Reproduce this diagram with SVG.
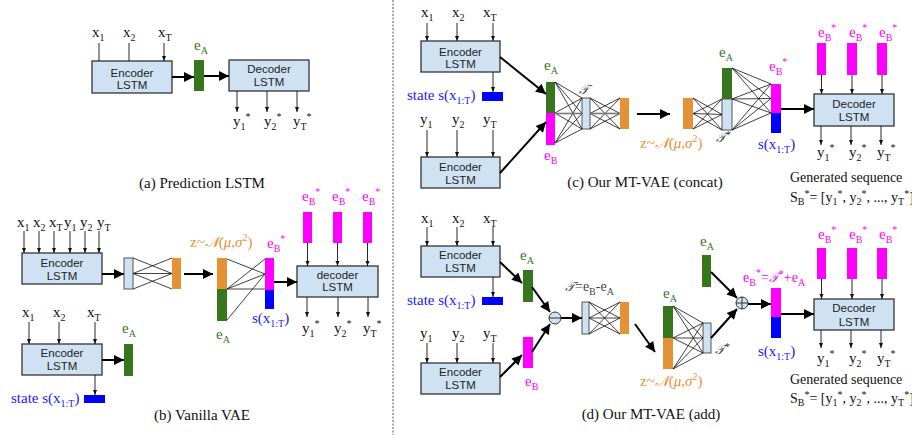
<svg xmlns="http://www.w3.org/2000/svg" width="912" height="435" viewBox="0 0 912 435">
<style>
.box{fill:#cfe2f3;stroke:#333;stroke-width:1.3}
.lb{fill:#cfe2f3;stroke:#555;stroke-width:1}
.g{fill:#38761d}.m{fill:#ff00ff}.bl{fill:#0000ff}.o{fill:#e69138}
.t{font-family:"Liberation Sans",Arial,sans-serif;font-size:11.5px;text-anchor:middle;fill:#222}
.s{font-family:"Liberation Serif","Times New Roman",serif;font-size:15px;fill:#111}
.s14{font-size:14px}
.s13{font-size:13px}
.sm{font-size:10px}
.xs{font-size:9px}
.cap{font-family:"Liberation Serif","Times New Roman",serif;font-size:15px;text-anchor:middle;fill:#111}
.tg{fill:#38761d}.tm{fill:#ff00ff}.tb{fill:#1a1aff}.to{fill:#e69138}.tk{fill:#444}
.scr{font-family:"DejaVu Serif","DejaVu Sans",serif;font-style:italic}
.thin{stroke:#111;stroke-width:0.9;fill:none;marker-end:url(#a)}
.thick{stroke:#000;stroke-width:2;fill:none;marker-end:url(#b)}
.net{stroke:#111;stroke-width:0.8;fill:none}
.mid{stroke:#777;stroke-width:1.6;fill:none}
.op{fill:#cfe2f3;stroke:#333;stroke-width:1}
.sep{stroke:#555;stroke-width:1;stroke-dasharray:2 1.5}
</style>
<defs>
<marker id="a" viewBox="0 0 10 10" refX="10" refY="5" markerWidth="5" markerHeight="5" markerUnits="userSpaceOnUse" orient="auto"><path d="M0,1 L10,5 L0,9z" fill="#111"/></marker>
<marker id="b" viewBox="0 0 10 10" refX="10" refY="5" markerWidth="11" markerHeight="10" markerUnits="userSpaceOnUse" orient="auto"><path d="M0,0 L10,5 L0,10z" fill="#000"/></marker>
</defs>
<rect width="912" height="435" fill="#fff"/>
<line class="sep" x1="393" y1="0" x2="393" y2="435"/>

<!-- ===== (a) ===== -->
<g id="a-inputs">
<text class="s" x="92" y="37">x<tspan class="sm" dy="4">1</tspan></text>
<text class="s" x="123" y="37">x<tspan class="sm" dy="4">2</tspan></text>
<text class="s" x="158" y="37">x<tspan class="sm" dy="4">T</tspan></text>
</g>
<g id="a-encoder"><rect class="box" x="92" y="61" width="80" height="32"/><text class="t" x="132" y="77">Encoder</text><text class="t" x="132" y="89">LSTM</text></g>
<g id="a-eA"><rect class="g" x="194" y="60" width="10" height="31"/><text class="s tg" x="194" y="50">e<tspan class="sm" dy="4">A</tspan></text></g>
<g id="a-decoder"><rect class="box" x="229" y="60" width="80" height="31"/><text class="t" x="269" y="73">Decoder</text><text class="t" x="269" y="86">LSTM</text></g>
<g id="a-outputs">
<text class="s" x="233" y="126">y<tspan class="sm" dy="4">1</tspan><tspan class="sm" dy="-10">*</tspan></text>
<text class="s" x="264" y="126">y<tspan class="sm" dy="4">2</tspan><tspan class="sm" dy="-10">*</tspan></text>
<text class="s" x="293" y="126">y<tspan class="sm" dy="4">T</tspan><tspan class="sm" dy="-10">*</tspan></text>
</g>
<text class="cap" x="202" y="188">(a) Prediction LSTM</text>

<!-- ===== (b) ===== -->
<g id="b-inputs">
<text class="s" x="17" y="227">x<tspan class="sm" dy="4">1</tspan></text>
<text class="s" x="33" y="227">x<tspan class="sm" dy="4">2</tspan></text>
<text class="s" x="49" y="227">x<tspan class="sm" dy="4">T</tspan></text>
<text class="s" x="64" y="227">y<tspan class="sm" dy="4">1</tspan></text>
<text class="s" x="80" y="227">y<tspan class="sm" dy="4">2</tspan></text>
<text class="s" x="97" y="227">y<tspan class="sm" dy="4">T</tspan></text>
</g>
<g id="b-encoder1"><rect class="box" x="22" y="253" width="80" height="31"/><text class="t" x="62" y="267">Encoder</text><text class="t" x="62" y="280">LSTM</text></g>
<g id="b-hidden"><rect class="lb" x="124" y="258" width="9" height="31"/></g>
<g id="b-z"><rect class="o" x="172" y="258" width="9" height="31"/></g>
<g id="b-zeA"><rect class="o" x="217" y="258" width="10" height="31"/><rect class="g" x="217" y="289" width="10" height="32"/>
<text class="s to" x="190" y="247">z~<tspan class="scr">𝒩</tspan>(<tspan font-style="italic">μ</tspan>,<tspan font-style="italic">σ</tspan><tspan class="sm" dy="-6">2</tspan><tspan dy="6">)</tspan></text>
<text class="s tg" x="216" y="339">e<tspan class="sm" dy="4">A</tspan></text></g>
<g id="b-eBs"><rect class="m" x="265" y="258" width="9" height="32"/><rect class="bl" x="265" y="290" width="9" height="19"/>
<text class="s tm" x="267" y="248">e<tspan class="sm" dy="4">B</tspan><tspan class="sm" dy="-10">*</tspan></text>
<text class="s tb" x="252" y="323">s(x<tspan class="sm" dy="4">1:T</tspan><tspan dy="-4">)</tspan></text></g>
<g id="b-decoder"><rect class="box" x="297" y="266" width="81" height="31"/><text class="t" x="337.5" y="279">decoder</text><text class="t" x="337.5" y="291">LSTM</text></g>
<g id="b-eBstar-inputs">
<rect class="m" x="303" y="212" width="9" height="31"/><rect class="m" x="333" y="212" width="9" height="31"/><rect class="m" x="363" y="212" width="9" height="31"/>
<text class="s tm" x="302" y="201">e<tspan class="sm" dy="4">B</tspan><tspan class="sm" dy="-10">*</tspan></text>
<text class="s tm" x="332" y="201">e<tspan class="sm" dy="4">B</tspan><tspan class="sm" dy="-10">*</tspan></text>
<text class="s tm" x="362" y="201">e<tspan class="sm" dy="4">B</tspan><tspan class="sm" dy="-10">*</tspan></text>
</g>
<g id="b-outputs">
<text class="s" x="302" y="333">y<tspan class="sm" dy="4">1</tspan><tspan class="sm" dy="-10">*</tspan></text>
<text class="s" x="334" y="333">y<tspan class="sm" dy="4">2</tspan><tspan class="sm" dy="-10">*</tspan></text>
<text class="s" x="363" y="333">y<tspan class="sm" dy="4">T</tspan><tspan class="sm" dy="-10">*</tspan></text>
</g>
<g id="b-inputs2">
<text class="s" x="22" y="317">x<tspan class="sm" dy="4">1</tspan></text>
<text class="s" x="53" y="317">x<tspan class="sm" dy="4">2</tspan></text>
<text class="s" x="87" y="317">x<tspan class="sm" dy="4">T</tspan></text>
</g>
<g id="b-encoder2"><rect class="box" x="22" y="344" width="80" height="31"/><text class="t" x="62" y="357">Encoder</text><text class="t" x="62" y="370">LSTM</text></g>
<g id="b-eA"><rect class="g" x="124" y="344" width="9" height="32"/><text class="s tg" x="122" y="333">e<tspan class="sm" dy="4">A</tspan></text></g>
<g id="b-state"><rect class="bl" x="84" y="395" width="21" height="8"/><text class="s tb" x="11" y="403">state s(x<tspan class="sm" dy="4">1:T</tspan><tspan dy="-4">)</tspan></text></g>
<text class="cap" x="202" y="420">(b) Vanilla VAE</text>

<!-- ===== (c) ===== -->
<g id="c-inputs-x">
<text class="s" x="421" y="17">x<tspan class="sm" dy="4">1</tspan></text>
<text class="s" x="452" y="17">x<tspan class="sm" dy="4">2</tspan></text>
<text class="s" x="483" y="17">x<tspan class="sm" dy="4">T</tspan></text>
</g>
<g id="c-encoder1"><rect class="box" x="421" y="41" width="79" height="31"/><text class="t" x="460.5" y="56">Encoder</text><text class="t" x="460.5" y="68">LSTM</text></g>
<g id="c-state"><rect class="bl" x="482" y="92" width="21" height="9"/><text class="s tb" x="407" y="100">state s(x<tspan class="sm" dy="4">1:T</tspan><tspan dy="-4">)</tspan></text></g>
<g id="c-inputs-y">
<text class="s" x="420" y="124">y<tspan class="sm" dy="4">1</tspan></text>
<text class="s" x="452" y="124">y<tspan class="sm" dy="4">2</tspan></text>
<text class="s" x="483" y="124">y<tspan class="sm" dy="4">T</tspan></text>
</g>
<g id="c-encoder2"><rect class="box" x="421" y="157" width="79" height="31"/><text class="t" x="460.5" y="171">Encoder</text><text class="t" x="460.5" y="184">LSTM</text></g>
<g id="c-eAeB"><rect class="g" x="546" y="82" width="9" height="31"/><rect class="m" x="546" y="113" width="9" height="32"/>
<text class="s tg" x="544" y="70">e<tspan class="sm" dy="4">A</tspan></text>
<text class="s tm" x="544" y="160">e<tspan class="sm" dy="4">B</tspan></text></g>
<g id="c-T"><rect class="lb" x="582" y="98" width="8" height="31"/><text class="s s13 tk scr" x="579" y="94">𝒯</text></g>
<g id="c-zenc"><rect class="o" x="620" y="98" width="9" height="31"/></g>
<g id="c-z"><rect class="o" x="683" y="98" width="10" height="31"/>
<text class="s to" x="640" y="148">z~<tspan class="scr">𝒩</tspan>(<tspan font-style="italic">μ</tspan>,<tspan font-style="italic">σ</tspan><tspan class="sm" dy="-6">2</tspan><tspan dy="6">)</tspan></text></g>
<g id="c-eATs"><rect class="g" x="722" y="68" width="10" height="31"/><rect class="lb" x="722" y="99" width="10" height="31"/>
<text class="s tg" x="719" y="57">e<tspan class="sm" dy="4">A</tspan></text>
<text class="s s13 tk scr" x="716" y="142">𝒯<tspan class="sm" dy="-4">*</tspan></text></g>
<g id="c-eBs"><rect class="m" x="771" y="84" width="10" height="29"/><rect class="bl" x="771" y="113" width="10" height="20"/>
<text class="s tm" x="769" y="71">e<tspan class="sm" dy="4">B</tspan><tspan class="sm" dy="-10">*</tspan></text>
<text class="s tb" x="758" y="149">s(x<tspan class="sm" dy="4">1:T</tspan><tspan dy="-4">)</tspan></text></g>
<g id="c-decoder"><rect class="box" x="814" y="94" width="80" height="32"/><text class="t" x="854" y="108">Decoder</text><text class="t" x="854" y="121">LSTM</text></g>
<g id="c-eBstar-inputs">
<rect class="m" x="817" y="43" width="9" height="32"/><rect class="m" x="847" y="43" width="10" height="32"/><rect class="m" x="877" y="43" width="10" height="32"/>
<text class="s tm" x="818" y="37">e<tspan class="sm" dy="4">B</tspan><tspan class="sm" dy="-10">*</tspan></text>
<text class="s tm" x="849" y="37">e<tspan class="sm" dy="4">B</tspan><tspan class="sm" dy="-10">*</tspan></text>
<text class="s tm" x="879" y="37">e<tspan class="sm" dy="4">B</tspan><tspan class="sm" dy="-10">*</tspan></text>
</g>
<g id="c-outputs">
<text class="s" x="817" y="157">y<tspan class="sm" dy="4">1</tspan><tspan class="sm" dy="-10">*</tspan></text>
<text class="s" x="849" y="157">y<tspan class="sm" dy="4">2</tspan><tspan class="sm" dy="-10">*</tspan></text>
<text class="s" x="877" y="157">y<tspan class="sm" dy="4">T</tspan><tspan class="sm" dy="-10">*</tspan></text>
<text class="s s14" x="790" y="182">Generated sequence</text>
<text class="s s14" x="790" y="202">S<tspan class="sm" dy="3">B</tspan><tspan class="sm" dy="-8">*</tspan><tspan dy="5">= [y</tspan><tspan class="sm" dy="3">1</tspan><tspan class="sm" dy="-8">*</tspan><tspan dy="5">, y</tspan><tspan class="sm" dy="3">2</tspan><tspan class="sm" dy="-8">*</tspan><tspan dy="5">, ..., y</tspan><tspan class="sm" dy="3">T</tspan><tspan class="sm" dy="-8">*</tspan><tspan dy="5">]</tspan></text>
</g>
<text class="cap" x="645" y="187">(c) Our MT-VAE (concat)</text>

<!-- ===== (d) ===== -->
<g id="d-inputs-x">
<text class="s" x="421" y="223">x<tspan class="sm" dy="4">1</tspan></text>
<text class="s" x="452" y="223">x<tspan class="sm" dy="4">2</tspan></text>
<text class="s" x="483" y="223">x<tspan class="sm" dy="4">T</tspan></text>
</g>
<g id="d-encoder1"><rect class="box" x="421" y="246" width="79" height="31"/><text class="t" x="460.5" y="259">Encoder</text><text class="t" x="460.5" y="272">LSTM</text></g>
<g id="d-state"><rect class="bl" x="482" y="297" width="21" height="8"/><text class="s tb" x="407" y="305">state s(x<tspan class="sm" dy="4">1:T</tspan><tspan dy="-4">)</tspan></text></g>
<g id="d-inputs-y">
<text class="s" x="420" y="338">y<tspan class="sm" dy="4">1</tspan></text>
<text class="s" x="452" y="338">y<tspan class="sm" dy="4">2</tspan></text>
<text class="s" x="483" y="338">y<tspan class="sm" dy="4">T</tspan></text>
</g>
<g id="d-encoder2"><rect class="box" x="421" y="363" width="79" height="31"/><text class="t" x="460.5" y="376">Encoder</text><text class="t" x="460.5" y="389">LSTM</text></g>
<g id="d-eA"><rect class="g" x="523" y="270" width="10" height="32"/><text class="s tg" x="520" y="260">e<tspan class="sm" dy="4">A</tspan></text></g>
<g id="d-eB"><rect class="m" x="523" y="337" width="10" height="31"/><text class="s tm" x="525" y="386">e<tspan class="sm" dy="4">B</tspan></text></g>
<g id="d-minus"><circle class="op" cx="555" cy="318" r="6"/><line x1="549" y1="318" x2="561" y2="318" stroke="#333" stroke-width="1"/></g>
<g id="d-T"><rect class="lb" x="582" y="302" width="7" height="32"/>
<text class="s s14 tk" x="565" y="291"><tspan class="scr" font-size="13">𝒯</tspan>=e<tspan class="sm" dy="4">B</tspan><tspan dy="-4">-e</tspan><tspan class="sm" dy="4">A</tspan></text></g>
<g id="d-zenc"><rect class="o" x="620" y="302" width="9" height="32"/></g>
<g id="d-eAz"><rect class="g" x="663" y="306" width="10" height="32"/><rect class="o" x="663" y="338" width="10" height="31"/>
<text class="s tg" x="663" y="298">e<tspan class="sm" dy="4">A</tspan></text>
<text class="s to" x="640" y="386">z~<tspan class="scr">𝒩</tspan>(<tspan font-style="italic">μ</tspan>,<tspan font-style="italic">σ</tspan><tspan class="sm" dy="-6">2</tspan><tspan dy="6">)</tspan></text></g>
<g id="d-Ts"><rect class="lb" x="703" y="323" width="8" height="30"/><text class="s s13 tk scr" x="715" y="354">𝒯<tspan class="sm" dy="-4">*</tspan></text></g>
<g id="d-eA2"><rect class="g" x="702" y="255" width="9" height="32"/><text class="s tg" x="700" y="246">e<tspan class="sm" dy="4">A</tspan></text></g>
<g id="d-plus"><circle class="op" cx="742" cy="303" r="6"/><path d="M736,303H748M742,297V309" stroke="#333" stroke-width="1"/></g>
<g id="d-eBs"><rect class="m" x="771" y="288" width="10" height="29"/><rect class="bl" x="771" y="317" width="10" height="21"/>
<text class="s s14 tm" x="743" y="282">e<tspan class="sm" dy="4">B</tspan><tspan class="sm" dy="-10">*</tspan><tspan dy="6">=</tspan><tspan class="scr" font-size="13">𝒯</tspan><tspan class="sm" dy="-5">*</tspan><tspan dy="5">+e</tspan><tspan class="sm" dy="4">A</tspan></text>
<text class="s tb" x="758" y="356">s(x<tspan class="sm" dy="4">1:T</tspan><tspan dy="-4">)</tspan></text></g>
<g id="d-decoder"><rect class="box" x="814" y="299" width="80" height="31"/><text class="t" x="854" y="312">Decoder</text><text class="t" x="854" y="326">LSTM</text></g>
<g id="d-eBstar-inputs">
<rect class="m" x="817" y="248" width="9" height="31"/><rect class="m" x="847" y="248" width="10" height="31"/><rect class="m" x="877" y="248" width="10" height="31"/>
<text class="s tm" x="818" y="239">e<tspan class="sm" dy="4">B</tspan><tspan class="sm" dy="-10">*</tspan></text>
<text class="s tm" x="849" y="239">e<tspan class="sm" dy="4">B</tspan><tspan class="sm" dy="-10">*</tspan></text>
<text class="s tm" x="879" y="239">e<tspan class="sm" dy="4">B</tspan><tspan class="sm" dy="-10">*</tspan></text>
</g>
<g id="d-outputs">
<text class="s" x="817" y="363">y<tspan class="sm" dy="4">1</tspan><tspan class="sm" dy="-10">*</tspan></text>
<text class="s" x="849" y="363">y<tspan class="sm" dy="4">2</tspan><tspan class="sm" dy="-10">*</tspan></text>
<text class="s" x="877" y="363">y<tspan class="sm" dy="4">T</tspan><tspan class="sm" dy="-10">*</tspan></text>
<text class="s s14" x="790" y="384">Generated sequence</text>
<text class="s s14" x="790" y="403">S<tspan class="sm" dy="3">B</tspan><tspan class="sm" dy="-8">*</tspan><tspan dy="5">= [y</tspan><tspan class="sm" dy="3">1</tspan><tspan class="sm" dy="-8">*</tspan><tspan dy="5">, y</tspan><tspan class="sm" dy="3">2</tspan><tspan class="sm" dy="-8">*</tspan><tspan dy="5">, ..., y</tspan><tspan class="sm" dy="3">T</tspan><tspan class="sm" dy="-8">*</tspan><tspan dy="5">]</tspan></text>
</g>
<text class="cap" x="651" y="419">(d) Our MT-VAE (add)</text>

<!-- ===== connectors ===== -->
<g id="connectors">
<!-- (a) -->
<path class="thin" d="M99,43V61M129,43V61M164,43V61"/>
<path class="thick" d="M172,77H194"/>
<path class="thick" d="M204,76H229"/>
<path class="thin" d="M237,91V112"/><path class="thin" d="M267,91V112"/><path class="thin" d="M297,91V112"/>
<!-- (b) -->
<path class="thin" d="M24,231V253"/><path class="thin" d="M39,231V253"/><path class="thin" d="M54,231V253"/><path class="thin" d="M70,231V253"/><path class="thin" d="M85,231V253"/><path class="thin" d="M99,231V253"/>
<path class="thick" d="M102,274H124"/>
<path class="net" d="M133,258L172,273.5M133,273.5L172,258M133,273.5L172,273.5M133,273.5L172,289M133,289L172,273.5"/>
<path class="thick" d="M184,274H213"/>
<path class="net" d="M227,259L265,274M227,289L265,259M227,289L265,274M227,289L265,289M227,320L265,274"/>
<path class="thick" d="M274,282H297"/>
<path class="thin" d="M307.5,243V266"/><path class="thin" d="M337.5,243V266"/><path class="thin" d="M367.5,243V266"/>
<path class="thin" d="M307,297V317"/><path class="thin" d="M338,297V317"/><path class="thin" d="M368,297V317"/>
<path class="thin" d="M29,322V344"/><path class="thin" d="M59,322V344"/><path class="thin" d="M95,322V344"/>
<path class="thick" d="M102,360H124"/>
<path class="thin" d="M95,375V395"/>
<!-- (c) -->
<path class="thin" d="M427,23V41"/><path class="thin" d="M457,23V41"/><path class="thin" d="M493,23V41"/>
<path class="thin" d="M493,72V92"/>
<path class="thin" d="M427,130V157"/><path class="thin" d="M457,130V157"/><path class="thin" d="M493,130V157"/>
<path class="thick" d="M500,57L546,94"/>
<path class="thick" d="M500,173L546,122"/>
<path class="net" d="M555,82L582,98M555,82L582,113.5M555,82L582,129M555,113L582,98M555,113L582,129M555,143L582,98M555,143L582,113.5M555,143L582,129"/>
<path class="mid" d="M555,113.5H582"/>
<path class="net" d="M590,98L620,113.5M590,98L620,129M590,113.5L620,98M590,113.5L620,129M590,129L620,98M590,129L620,113.5"/>
<path class="mid" d="M590,113.5H620"/>
<path class="thick" d="M637,114H670"/>
<path class="net" d="M693,98L722,114.5M693,98L722,130M693,113.5L722,99M693,113.5L722,114.5M693,113.5L722,130M693,129L722,99M693,129L722,114.5"/>
<path class="net" d="M732,68L771,84M732,68L771,98.5M732,68L771,113M732,99L771,84M732,99L771,98.5M732,99L771,113M732,130L771,84M732,130L771,98.5M732,130L771,113"/>
<path class="thick" d="M781,109H814"/>
<path class="thin" d="M821.5,75V94"/><path class="thin" d="M852,75V94"/><path class="thin" d="M882,75V94"/>
<path class="thin" d="M821,126V145"/><path class="thin" d="M851,126V145"/><path class="thin" d="M881,126V145"/>
<!-- (d) -->
<path class="thin" d="M427,227V246"/><path class="thin" d="M457,227V246"/><path class="thin" d="M493,227V246"/>
<path class="thin" d="M493,277V297"/>
<path class="thin" d="M427,343V363"/><path class="thin" d="M457,343V363"/><path class="thin" d="M493,343V363"/>
<path class="thick" d="M500,262L522,283"/>
<path class="thick" d="M500,377L522,355"/>
<path class="thick" d="M532,287L550,312"/>
<path class="thick" d="M532,352L550,324"/>
<path class="thick" d="M561,318H582"/>
<path class="net" d="M589,302L620,318M589,302L620,334M589,318L620,302M589,318L620,318M589,318L620,334M589,334L620,302M589,334L620,318"/>
<path class="thick" d="M635,324L655,352"/>
<path class="net" d="M673,306L703,323M673,306L703,338M673,306L703,353M673,338L703,323M673,338L703,338M673,338L703,353M673,369L703,323M673,369L703,338M673,369L703,353"/>
<path class="thick" d="M711,272L737,298"/>
<path class="thick" d="M711,338L737,309"/>
<path class="thick" d="M748,304H771"/>
<path class="thick" d="M781,314H814"/>
<path class="thin" d="M821.5,279V299"/><path class="thin" d="M852,279V299"/><path class="thin" d="M882,279V299"/>
<path class="thin" d="M821,330V348"/><path class="thin" d="M851,330V348"/><path class="thin" d="M881,330V348"/>
</g>
</svg>
